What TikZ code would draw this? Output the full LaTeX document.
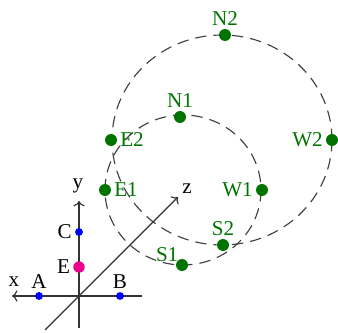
\documentclass[tikz,border=0pt]{standalone}
\usepackage{fontspec}
\setmainfont{Liberation Serif}
\usetikzlibrary{arrows.meta}
\definecolor{dkgreen}{RGB}{0,115,0}
\tikzset{
  orbit/.style={dash pattern=on 6.5pt off 4pt,line width=0.65pt,black!75},
  gdot/.style={circle,fill=dkgreen,inner sep=0pt,minimum size=6.8pt},
  bdot/.style={circle,fill=blue,inner sep=0pt,minimum size=4.5pt},
  glab/.style={text=dkgreen,font=\large,inner sep=1.5pt},
  blab/.style={font=\large,inner sep=1.5pt},
  axis/.style={->,line width=0.65pt,black!80},
}

\begin{document}
\begin{tikzpicture}[x=0.02cm,y=-0.02cm]
\useasboundingbox (0,0) rectangle (338,333);
% orbits
\draw[orbit] (183,190) ellipse [x radius=78, y radius=75];
\draw[orbit] (222,140) ellipse [x radius=110, y radius=105];

% axes
\coordinate (xs) at (142,296);
\coordinate (xt) at (12,296);
\coordinate (ys) at (79,328);
\coordinate (yt) at (79,201);
\coordinate (zs) at (45,330);
\coordinate (zt) at (178,197);
\draw[axis] (xs) -- (xt);
\draw[axis] (ys) -- (yt);
\draw[axis] (zs) -- (zt);
\node[blab] (xl) at (14,282) {x};
\node[blab] (yl) at (78,186) {y};
\node[blab] (zl) at (187,189) {z};

% points on the axes
\node[bdot,label={[blab]above:A}] (a) at (39,296) {};
\node[bdot,label={[blab]above:B}] (b) at (120,296) {};
\node[bdot,label={[blab]left:C}] (c) at (79,232) {};
\node[circle,fill=magenta,inner sep=0pt,minimum size=6.5pt,
  label={[blab]left:E}] (e) at (79,267) {};

% points on the orbits
\node[gdot,label={[glab]above:N1}] (n1) at (180,117) {};
\node[gdot,label={[glab]right:E1}] (e1) at (105,190) {};
\node[gdot,label={[glab]left:W1}] (w1) at (262,190) {};
\node[gdot,label={[glab,label distance=-3pt]above left:S1}] (s1) at (182,265) {};
\node[gdot,label={[glab]above:N2}] (n2) at (225,35) {};
\node[gdot,label={[glab]right:E2}] (e2) at (111,140) {};
\node[gdot,label={[glab]left:W2}] (w2) at (332,140) {};
\node[gdot,label={[glab]above:S2}] (s2) at (223,245) {};
\end{tikzpicture}
\end{document}
